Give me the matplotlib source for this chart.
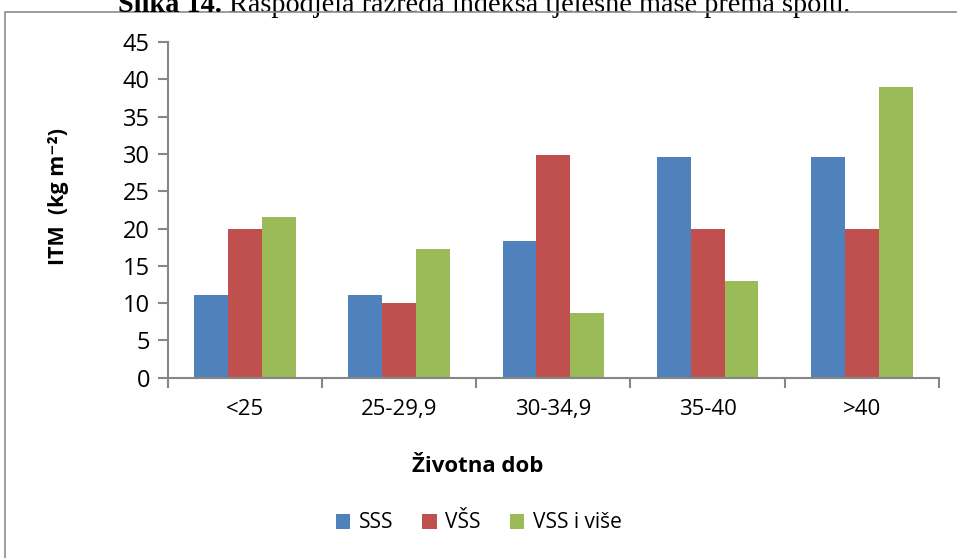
import matplotlib
matplotlib.use('Agg')
import matplotlib.pyplot as plt
from matplotlib.patches import Rectangle
import numpy as np

categories = ['<25', '25-29,9', '30-34,9', '35-40', '>40']
series_names = ['SSS', 'VŠS', 'VSS i više']
sss = [11.1, 11.1, 18.3, 29.6, 29.6]
vss_short = [20.0, 10.0, 29.9, 20.0, 20.0]
vss_plus = [21.6, 17.3, 8.7, 13.0, 39.0]
colors = ['#4f81bd', '#c0504d', '#9bbb59']

plt.rcParams['font.family'] = ['Open Sans', 'DejaVu Sans']
gray = '#868686'

fig = plt.figure(figsize=(9.57, 5.58), dpi=100)
ax = fig.add_axes([0.1755, 0.3231, 0.981 - 0.1755, 0.9247 - 0.3231])

x = np.arange(len(categories)) + 0.5
w = 0.22
for i, (vals, name) in enumerate(zip([sss, vss_short, vss_plus], series_names)):
    ax.bar(x + (i - 1) * w, vals, width=w, color=colors[i], label=name)

ax.set_xlim(0, len(categories))
ax.set_ylim(0, 45)
ax.set_yticks(range(0, 46, 5))
ax.set_xticks(np.arange(len(categories) + 1))
ax.set_xticklabels([])
ax.set_xticks(x, minor=True)
ax.set_xticklabels(categories, minor=True, fontsize=16)
ax.tick_params(axis='x', which='minor', length=0, pad=15)
ax.tick_params(axis='x', which='major', length=7, width=1.5, color=gray, direction='out')
ax.tick_params(axis='y', length=7, width=1.5, color=gray, labelsize=17, pad=6)
for s in ['top', 'right']:
    ax.spines[s].set_visible(False)
for s in ['left', 'bottom']:
    ax.spines[s].set_color(gray)
    ax.spines[s].set_linewidth(1.5)

ax.set_ylabel('ITM  (kg m⁻²)', fontsize=15.5, fontweight='bold')
ax.yaxis.set_label_coords(-0.128, 0.54)
ax.set_xlabel('Životna dob', fontsize=16, fontweight='bold')
ax.xaxis.set_label_coords(0.402, -0.232)

fig.legend(loc='center', bbox_to_anchor=(0.5, 1 - 523 / 558), ncol=3, frameon=False,
           fontsize=15, handlelength=0.7, handleheight=0.7, columnspacing=1.4, handletextpad=0.4)

# chart frame
fig.patches.append(Rectangle((5 / 957, -0.01), 1.0, 1 - 12 / 558 + 0.01, transform=fig.transFigure,
                             fill=False, edgecolor='#8c8c8c', linewidth=1.2))

# caption above the chart (partly cropped in the source)
t1 = fig.text(118 / 957, 1 - 5 / 558, 'Slika 14.', ha='left', va='center', fontsize=20.3,
              fontweight='bold', family='Liberation Serif')
fig.canvas.draw()
ax.annotate(' Raspodjela razreda indeksa tjelesne mase prema spolu.', xy=(1, 0), xycoords=t1,
            ha='left', va='bottom', fontsize=20.3, family='Liberation Serif', annotation_clip=False)

fig.savefig('out.png', dpi=100)
